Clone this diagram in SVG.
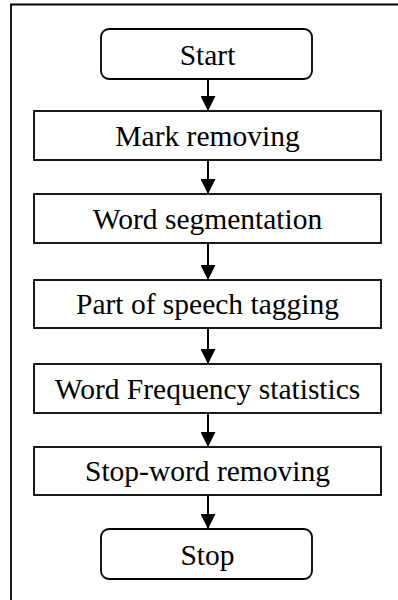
<svg xmlns="http://www.w3.org/2000/svg" width="398" height="600" viewBox="0 0 398 600">
  <style>
    .box { fill: #ffffff; stroke: #000000; stroke-width: 1.8; }
    .label { font-family: "Liberation Serif", "Times New Roman", serif; font-size: 29.5px; fill: #000000; text-anchor: middle; }
    .frame { fill: none; stroke: #000000; stroke-width: 1.8; }
    .link { stroke: #000000; stroke-width: 2; fill: none; marker-end: url(#arrow); }
  </style>
  <defs>
    <marker id="arrow" markerUnits="userSpaceOnUse" markerWidth="15" markerHeight="15" viewBox="0 0 15 15" refX="15" refY="7.5" orient="auto">
      <path d="M0,0 L15,7.5 L0,15 Z" fill="#000000"/>
    </marker>
  </defs>
  <rect width="398" height="600" fill="#ffffff"/>

  <!-- surrounding frame (continues past the right and bottom edges) -->
  <path class="frame" d="M11,600 L11,4.5 L398,4.5"/>

  <g id="connectors">
    <line class="link" x1="208" y1="79" x2="208" y2="111"/>
    <line class="link" x1="208" y1="160" x2="208" y2="194"/>
    <line class="link" x1="208" y1="243" x2="208" y2="280"/>
    <line class="link" x1="208" y1="328" x2="208" y2="364"/>
    <line class="link" x1="208" y1="413" x2="208" y2="447"/>
    <line class="link" x1="208" y1="495" x2="208" y2="529"/>
  </g>

  <g id="start">
    <rect class="box" x="101" y="29" width="211" height="50" rx="8" ry="8"/>
    <text class="label" x="207.5" y="65">Start</text>
  </g>
  <g id="mark-removing">
    <rect class="box" x="34" y="111" width="347" height="49"/>
    <text class="label" x="207.5" y="146">Mark removing</text>
  </g>
  <g id="word-segmentation">
    <rect class="box" x="34" y="194" width="347" height="49"/>
    <text class="label" x="207.5" y="229">Word segmentation</text>
  </g>
  <g id="pos-tagging">
    <rect class="box" x="34" y="280" width="347" height="48"/>
    <text class="label" x="207.5" y="314">Part of speech tagging</text>
  </g>
  <g id="word-frequency">
    <rect class="box" x="34" y="364" width="347" height="49"/>
    <text class="label" x="207.5" y="399">Word Frequency statistics</text>
  </g>
  <g id="stopword-removing">
    <rect class="box" x="34" y="447" width="347" height="48"/>
    <text class="label" x="207.5" y="481">Stop-word removing</text>
  </g>
  <g id="stop">
    <rect class="box" x="101" y="529" width="211" height="50" rx="8" ry="8"/>
    <text class="label" x="207.5" y="565">Stop</text>
  </g>
</svg>
